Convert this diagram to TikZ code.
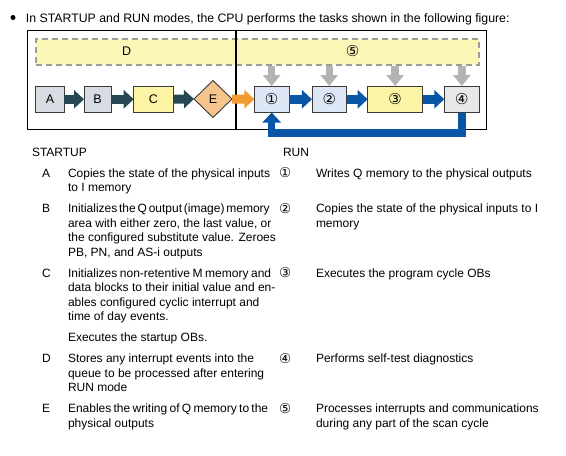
\documentclass[tikz,border=0pt]{standalone}
\usepackage{fontspec}
\setmainfont{Liberation Sans}
\newfontfamily\symf{DejaVu Sans}
\usetikzlibrary{arrows.meta,shapes.geometric}
\definecolor{bandfill}{HTML}{FBF6B6}
\definecolor{bandline}{HTML}{9C9C9C}
\definecolor{abfill}{HTML}{D7DCE3}
\definecolor{yfill}{HTML}{FBF4A4}
\definecolor{efill}{HTML}{F8C48E}
\definecolor{bfill}{HTML}{DCE6F4}
\definecolor{gfill}{HTML}{E7E7E7}
\definecolor{boxline}{HTML}{3A3A3A}
\definecolor{tealc}{HTML}{264753}
\definecolor{orangec}{HTML}{F39A30}
\definecolor{bluec}{HTML}{0A56A6}
\definecolor{grayc}{HTML}{B3B3B3}
\newcommand{\tightsp}[2]{{\spaceskip=#1\relax #2}}
\begin{document}
\begin{tikzpicture}[x=1pt,y=-1pt,
  txt/.style={anchor=base west, inner sep=0pt, outer sep=0pt, align=left, font=\fontsize{12}{14.5}\selectfont},
  box/.style={draw=boxline, line width=0.9pt, minimum height=26.5pt, inner sep=0pt, outer sep=0pt, font=\fontsize{12.5}{12.5}\selectfont},
  cbox/.style={box, font=\symf\fontsize{15}{15}\selectfont},
  harrow/.style={line width=9pt, -{Triangle[width=18pt,length=10pt]}},
  varrow/.style={grayc, line width=7.5pt, -{Triangle[width=17pt,length=11pt]}},
  cn/.style={txt, font=\symf\fontsize{13.5}{14.5}\selectfont}
]
\useasboundingbox[fill=white] (0,0) rectangle (566,456);

% heading
\node[circle, fill=black, minimum size=5pt, inner sep=0pt] (bul) at (13,17.5) {};
\node[txt, font=\fontsize{12.3}{14.5}\selectfont] (head) at (26,22) {In STARTUP and RUN modes, the CPU performs the tasks shown in the following figure:};

% frame and band
\node[draw=black, line width=1pt, minimum width=459pt, minimum height=98.5pt, anchor=north west, inner sep=0pt] (frame) at (27,30) {};
\node[draw=bandline, dashed, dash pattern=on 6pt off 4pt, line width=1.2pt, fill=bandfill, minimum width=443pt, minimum height=26pt, anchor=north west, inner sep=0pt] (band) at (35.3,38.3) {};
\coordinate (dtop) at (236,30);
\coordinate (dbot) at (236,128.5);
\draw[line width=1.4pt] (dtop) -- (dbot);
\node[font=\fontsize{12.5}{12.5}\selectfont, inner sep=0pt] (Dl) at (126.7,51.3) {D};
\node[font=\symf\fontsize{15}{15}\selectfont, inner sep=0pt] (c5) at (352.7,51.5) {⑤};

% startup boxes
\node[box, fill=abfill, minimum width=28.6pt] (A) at (50,99.25) {A};
\node[box, fill=abfill, minimum width=27pt] (B) at (97.5,99.25) {B};
\node[box, fill=yfill, minimum width=39.6pt] (C) at (153.5,99.25) {C};
\node[diamond, draw=boxline, line width=0.9pt, fill=efill, minimum width=38pt, minimum height=37pt, inner sep=0pt, outer sep=0pt, font=\fontsize{12.5}{12.5}\selectfont] (E) at (213,99) {E};

% run boxes
\node[cbox, fill=bfill, minimum width=34.7pt] (one) at (271.7,99.25) {①};
\node[cbox, fill=bfill, minimum width=34.7pt] (two) at (329.3,99.25) {②};
\node[cbox, fill=yfill, minimum width=55pt] (three) at (395.2,99.25) {③};
\node[cbox, fill=gfill, minimum width=35pt] (four) at (461.8,99.25) {④};

% horizontal arrows
\draw[harrow, tealc] (A.east) -- (B.west);
\draw[harrow, tealc] (B.east) -- (C.west);
\draw[harrow, tealc] (C.east) -- (E.west);
\draw[harrow, orangec] (E.east) -- (one.west);
\draw[harrow, bluec] (one.east) -- (two.west);
\draw[harrow, bluec] (two.east) -- (three.west);
\draw[harrow, bluec] (three.east) -- (four.west);

% gray arrows from band
\draw[varrow] (one.north |- band.south) -- (one.north);
\draw[varrow] (two.north |- band.south) -- (two.north);
\draw[varrow] (three.north |- band.south) -- (three.north);
\draw[varrow] (four.north |- band.south) -- (four.north);

% feedback loop
\coordinate (lp) at (0,133);
\draw[bluec, line width=7.5pt, line join=miter, -{Triangle[width=18pt,length=10pt]}] (four.south) -- (four.south |- lp) -| (one.south);

% descriptions (multi-line nodes are placed at the baseline of their last line)
\node[txt] (st) at (32,156) {STARTUP};
\node[txt] (run) at (283,156) {RUN};

\node[txt] (la) at (42,177) {A};
\node[txt] (ta) at (68,191.5) {Copies the state of the physical inputs\\to I memory};
\node[txt] (lb) at (42,212.5) {B};
\node[txt] (tb) at (68,256) {\tightsp{1.8pt}{Initializes the Q output (image) memory}\\area with either zero, the last value, or\\the configured substitute value. Zeroes\\PB, PN, and AS-i outputs};
\node[txt] (lc) at (42,277) {C};
\node[txt] (tc) at (68,320.5) {\tightsp{2.6pt}{Initializes non-retentive M memory and}\\data blocks to their initial value and en-\\ables configured cyclic interrupt and\\time of day events.};
\node[txt] (tc2) at (68,341.5) {Executes the startup OBs.};
\node[txt] (ld) at (42,362.5) {D};
\node[txt] (td) at (68,391.5) {Stores any interrupt events into the\\queue to be processed after entering\\RUN mode};
\node[txt] (le) at (42,412.5) {E};
\node[txt] (te) at (68,427) {\tightsp{2.3pt}{Enables the writing of Q memory to the}\\physical outputs};

\node[cn] (r1) at (279,177.5) {①};
\node[txt] (t1) at (316,177) {Writes Q memory to the physical outputs};
\node[cn] (r2) at (279,213) {②};
\node[txt] (t2) at (316,227) {Copies the state of the physical inputs to I\\memory};
\node[cn] (r3) at (279,277.5) {③};
\node[txt] (t3) at (316,277) {Executes the program cycle OBs};
\node[cn] (r4) at (279,363) {④};
\node[txt] (t4) at (316,362.5) {Performs self-test diagnostics};
\node[cn] (r5) at (279,413) {⑤};
\node[txt] (t5) at (316,427) {Processes interrupts and communications\\during any part of the scan cycle};
\end{tikzpicture}
\end{document}
